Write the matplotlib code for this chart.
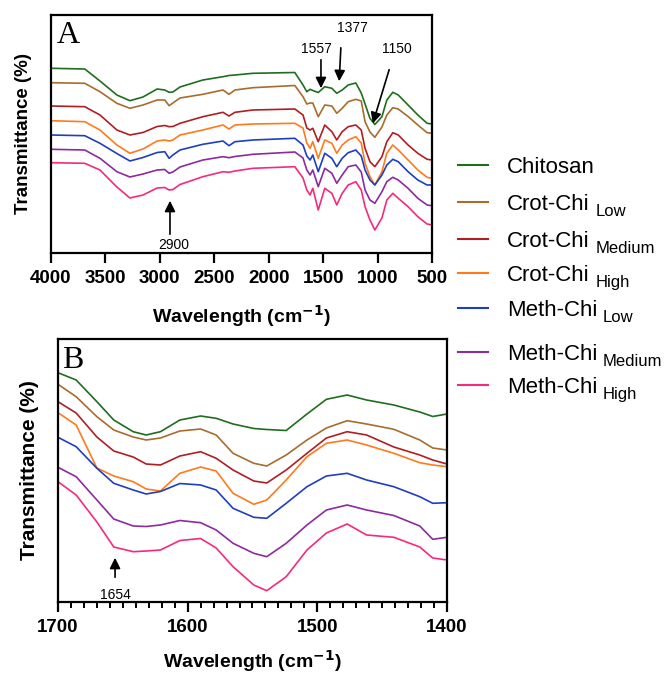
import matplotlib
matplotlib.use("Agg")
import matplotlib.pyplot as plt
from matplotlib.lines import Line2D

plt.rcParams['font.family'] = ['Liberation Sans', 'DejaVu Sans']

# ---- data (arbitrary transmittance units) ----
names = ["Chitosan", "Crot-Chi", "Crot-Chi", "Crot-Chi", "Meth-Chi", "Meth-Chi", "Meth-Chi"]
subs = ["", "Low", "Medium", "High", "Low", "Medium", "High"]
colors = ["#1e6e1e", "#a86c2c", "#b01e22", "#ff7a1c", "#1f3ec0", "#8c2aa0", "#f52a7c"]

# panel A: full range
wn_a = [4000, 3690, 3550, 3395, 3275, 3155, 3025, 2955, 2915, 2880, 2815, 2605, 2420, 2365,
        2310, 2145, 1760, 1685, 1650, 1620, 1595, 1545, 1485, 1420, 1375, 1325, 1270, 1200,
        1150, 1115, 1070, 1025, 960, 915, 860, 810, 720, 630, 545, 500]
chitosan_a = [184.7, 184, 172, 158, 152.3, 156, 164, 163, 160.7, 161, 166, 173, 176.3, 177.5,
              178, 179.7, 180.5, 168, 161.3, 163.7, 162.5, 160.5, 166.3, 164.7, 159.7, 163, 168, 170,
              160, 149, 134.7, 128.5, 136.3, 153, 160.7, 158, 148, 138, 129.7, 129]
crot_low_a = [170.3, 169.7, 161.3, 149.7, 144.7, 148, 153, 153, 147.3, 150, 155, 158.7, 163, 158.7,
              163, 165.3, 167.5, 156.3, 149, 150, 150, 136.3, 148, 147, 139.7, 144.7, 151.3, 153.7,
              152, 131.3, 121, 115.7, 126, 138, 145.3, 144, 136.5, 128, 120.3, 119.7]
crot_med_a = [147, 146.3, 138, 123, 118, 120.5, 126.5, 127.5, 126.3, 126.5, 129.7, 136.3, 140.7, 137,
              140.7, 143, 144, 138, 125, 123, 124.7, 111.3, 128, 121.3, 113, 121.3, 126.3, 128,
              123, 104.7, 91.3, 86.3, 96.3, 111.3, 120.3, 118, 108, 99.7, 93.7, 93]
crot_high_a = [132.3, 131.3, 123, 108, 99.7, 104, 112, 113, 112, 113, 118, 123, 128, 124,
               128, 129, 129.7, 125, 110, 104.7, 111.3, 94.7, 113, 109.7, 99.7, 108, 113, 116.3,
               110, 89.7, 76.3, 68, 81.3, 99.7, 108, 103, 93, 83, 75.7, 74.7]
meth_low_a = [118, 117.3, 109.7, 99.5, 92, 95.5, 100.5, 101.3, 94.7, 98, 103, 108.7, 112, 107.3,
              111.3, 113, 114.7, 108, 97, 93, 98, 81.3, 99.7, 94.7, 86.3, 94.7, 100.3, 103,
              97, 83, 73, 68, 78, 88, 93.7, 91.3, 81.3, 73, 68, 68]
meth_med_a = [103.7, 103, 94.7, 81.3, 76, 79, 83, 83.5, 79.7, 81, 86, 93, 96.3, 95.3,
              96.5, 98.7, 101, 95, 83, 78, 83, 66.3, 84.7, 79.7, 69.7, 78, 86.3, 88,
              81, 63, 53, 49.7, 61.3, 71.3, 75.7, 73, 64.7, 54.7, 48, 47.3]
meth_high_a = [90.3, 89.7, 83, 66, 55, 58, 65, 65.5, 63, 63.5, 68.5, 76.3, 81.3, 80.7,
               82, 84.7, 86.3, 75, 63, 58, 64.7, 43, 64.7, 59.7, 48, 59.7, 68, 71.3,
               63, 46.3, 33, 23, 35, 53, 59.7, 54.7, 46.3, 36.3, 29, 28]

# panel B: amide region
wn_b = [1700, 1686, 1670, 1657, 1642, 1632, 1621, 1606, 1590, 1578, 1565, 1549, 1539, 1524,
        1508, 1493, 1477, 1462, 1441, 1421, 1411, 1400]
chitosan_b = [229.3, 222, 200.3, 182, 170.3, 167, 170.3, 182, 186, 183.7, 178, 173.5, 172.5, 171.5,
              188, 202.7, 207, 202, 197, 190, 185.5, 188]
crot_low_b = [217.7, 205.3, 185.3, 172, 165, 162, 164, 171, 173, 167, 148.7, 138.7, 136, 147,
              162, 174, 181.3, 178, 172.7, 162, 154, 152]
crot_med_b = [200.3, 189, 165, 151, 145, 138, 137, 146, 150.3, 143.7, 132, 121, 119, 132,
              148.7, 164, 170.3, 167, 155, 147, 142, 138]
crot_high_b = [189.3, 177, 134, 126, 120.3, 113, 111, 128.7, 135, 131, 108.7, 97.7, 102, 122,
               145.3, 158.7, 162, 157, 148.7, 139.3, 137, 135.3]
meth_low_b = [164.7, 155.3, 133.7, 118.7, 112, 108, 110.5, 118.5, 117, 112, 93.7, 84.7, 83.7, 98.7,
              115.3, 126, 128.7, 122, 115.3, 105.3, 98.7, 99.3]
meth_med_b = [134.7, 125.3, 102, 83, 76, 75.5, 77, 81.5, 79.3, 72, 58.7, 48.7, 45.3, 58.7,
              77, 92, 97, 92, 86.5, 76, 62.7, 64.7]
meth_high_b = [120.3, 107, 80, 55, 50.3, 51, 52, 61.5, 63.5, 54, 35.3, 17, 11.3, 25.3,
               52, 69, 78, 67, 64.7, 55, 44, 42]

series_a = [chitosan_a, crot_low_a, crot_med_a, crot_high_a, meth_low_a, meth_med_a, meth_high_a]
series_b = [chitosan_b, crot_low_b, crot_med_b, crot_high_b, meth_low_b, meth_med_b, meth_high_b]

W, H = 667, 675


def fx(px):
    return px / W


def fy(py):
    return 1 - py / H


fig = plt.figure(figsize=(W / 100, H / 100), dpi=100)

axA = fig.add_axes([fx(51), fy(253), fx(432) - fx(51), fy(15) - fy(253)])
axB = fig.add_axes([fx(58), fy(602), fx(447) - fx(58), fy(339) - fy(602)])

for s, c in zip(series_a, colors):
    axA.plot(wn_a, s, color=c, lw=1.2)
for s, c in zip(series_b, colors):
    axB.plot(wn_b, s, color=c, lw=1.2)

axA.set_xlim(4000, 500)
axA.set_ylim(0, 238)
axA.set_xticks(range(4000, 499, -500))
axB.set_xlim(1700, 1400)
axB.set_ylim(0, 263)
axB.set_xticks([1700, 1600, 1500, 1400])
axB.set_xticks(range(1700, 1399, -10), minor=True)

for ax in (axA, axB):
    ax.set_yticks([])
    for sp in ax.spines.values():
        sp.set_linewidth(1.6)
    ax.tick_params(axis='x', which='major', direction='out', length=7, width=1.6,
                   labelsize=13.5, pad=5)
    ax.tick_params(axis='x', which='minor', direction='out', length=4, width=1.4)
    for lab in ax.get_xticklabels():
        lab.set_fontweight('bold')

xlab = "Wavelength (cm$^{\\mathbf{-1}}$)"
axA.set_xlabel(xlab, fontsize=14, fontweight='bold', labelpad=12)
axB.set_xlabel(xlab, fontsize=14, fontweight='bold', labelpad=9)
axA.set_ylabel("Transmittance (%)", fontsize=13.5, fontweight='bold', labelpad=14)
axB.set_ylabel("Transmittance (%)", fontsize=15, fontweight='bold', labelpad=14)

# panel letters
fig.text(fx(57), fy(43), "A", fontsize=23, family='Liberation Serif', va='baseline')
fig.text(fx(62), fy(368), "B", fontsize=23, family='Liberation Serif', va='baseline')

# peak annotations
arrow = dict(arrowstyle='-|>', color='black', lw=1.2, mutation_scale=16)
axA.annotate('', xy=(1520, 162), xytext=(1520, 196), arrowprops=arrow)
axA.text(1566, 204, "1557", fontsize=10, ha='center', va='center')
axA.annotate('', xy=(1354, 169), xytext=(1336, 208), arrowprops=arrow)
axA.text(1235, 225, "1377", fontsize=10, ha='center', va='center')
axA.annotate('', xy=(1051, 127), xytext=(886, 186), arrowprops=arrow)
axA.text(822, 204, "1150", fontsize=10, ha='center', va='center')
axA.annotate('', xy=(2907, 55), xytext=(2907, 16), arrowprops=arrow)
axA.text(2870, 8, "2900", fontsize=10, ha='center', va='center')
axB.annotate('', xy=(1656, 47), xytext=(1656, 22), arrowprops=arrow)
axB.text(1656, 7, "1654", fontsize=10, ha='center', va='center')

# legend drawn by hand to follow the uneven row spacing
row_y = [165, 202, 239, 273, 308, 352, 385]
for name, sub, c, ly in zip(names, subs, colors, row_y):
    fig.add_artist(Line2D([fx(458), fx(488)], [fy(ly), fy(ly)], color=c, lw=1.5))
    t = fig.text(fx(507), fy(ly + 8), name, fontsize=16, va='baseline')
    if sub:
        axA.annotate(sub, xy=(1, 0), xycoords=t, xytext=(4, -3),
                     textcoords='offset points', fontsize=12, va='bottom', ha='left',
                     annotation_clip=False)

fig.savefig("out.png", dpi=100)
